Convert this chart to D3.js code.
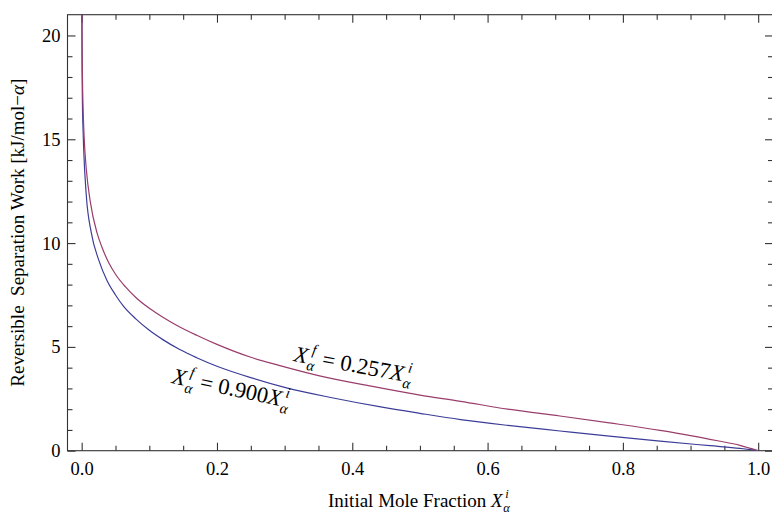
<!DOCTYPE html>
<html>
<head>
<meta charset="utf-8">
<script src="https://cdn.jsdelivr.net/npm/d3@7"></script>
<style>
  body { margin: 0; background: #fff; }
  text { font-family: "Liberation Serif", "Times New Roman", serif; fill: #000; }
</style>
</head>
<body>
<div id="chart"></div>
<script>
// values
var blueX = [0.0003, 0.0005, 0.001, 0.002, 0.003, 0.0068, 0.0142, 0.025, 0.0374, 0.05, 0.062, 0.08, 0.1, 0.12, 0.145, 0.17, 0.2, 0.25, 0.3, 0.37, 0.44, 0.5, 0.56, 0.63, 0.707, 0.78, 0.855, 0.929, 0.973, 1.0];
var blueY = [21.5, 18.9, 17.0, 15.5, 14.5, 12.3, 10.5, 9.2, 8.2, 7.5, 6.95, 6.35, 5.8, 5.35, 4.87, 4.48, 4.07, 3.52, 3.05, 2.55, 2.12, 1.8, 1.5, 1.22, 0.95, 0.7, 0.46, 0.24, 0.11, 0];

var redX = [0.0003, 0.0005, 0.001, 0.002, 0.0038, 0.007, 0.0127, 0.0226, 0.03, 0.04, 0.05, 0.0645, 0.08, 0.1, 0.12, 0.145, 0.17, 0.2, 0.25, 0.293, 0.35, 0.426, 0.5, 0.56, 0.63, 0.707, 0.78, 0.855, 0.9, 0.94, 0.973, 1.0];
var redY = [22.7, 20.1, 18.3, 16.6, 15.0, 13.5, 12.0, 10.5, 9.8, 9.05, 8.5, 7.9, 7.38, 6.86, 6.43, 5.96, 5.56, 5.12, 4.5, 4.1, 3.62, 3.12, 2.68, 2.38, 2.0, 1.67, 1.34, 0.98, 0.73, 0.48, 0.26, 0];

var xMajor = [0, 0.2, 0.4, 0.6, 0.8, 1.0];
var yMajor = [0, 5, 10, 15, 20];

(function() {
  var width = 772, height = 512;
  var pLeft = 67.5, pRight = 773, pTop = 14.7, pBottom = 450.7;

  var svg = d3.select("#chart").append("svg")
      .attr("width", width)
      .attr("height", height);

  var x = d3.scaleLinear().domain([-0.0217, 1.0219]).range([pLeft - 0.5, pRight]);
  var y = d3.scaleLinear().domain([0, 21]).range([pBottom, pTop]);

  var xMinor = d3.range(0, 1.0001, 0.05).filter(function(d) { return Math.abs(d * 5 - Math.round(d * 5)) > 1e-6; });
  var yMinor = d3.range(0, 21, 1).filter(function(d) { return d % 5 !== 0; });

  // frame
  svg.append("rect")
      .attr("x", pLeft).attr("y", pTop)
      .attr("width", pRight - pLeft).attr("height", pBottom - pTop)
      .attr("fill", "none")
      .attr("stroke", "#333")
      .attr("stroke-width", 1.1);

  function styleAxis(g) {
    g.select(".domain").remove();
    g.selectAll(".tick line").attr("stroke", "#333").attr("stroke-width", 1.1);
    g.selectAll("text").attr("font-size", "18.5px").attr("font-family", "Liberation Serif, serif").attr("fill", "#000");
  }

  // bottom
  svg.append("g").attr("transform", "translate(0," + pBottom + ")")
      .call(d3.axisBottom(x).tickValues(xMajor).tickSize(-8).tickPadding(11).tickFormat(d3.format(".1f")))
      .call(styleAxis);
  svg.append("g").attr("transform", "translate(0," + pBottom + ")")
      .call(d3.axisBottom(x).tickValues(xMinor).tickSize(-5).tickFormat(""))
      .call(styleAxis);
  // top
  svg.append("g").attr("transform", "translate(0," + pTop + ")")
      .call(d3.axisTop(x).tickValues(xMajor).tickSize(-8).tickFormat(""))
      .call(styleAxis);
  svg.append("g").attr("transform", "translate(0," + pTop + ")")
      .call(d3.axisTop(x).tickValues(xMinor).tickSize(-5).tickFormat(""))
      .call(styleAxis);
  // left
  svg.append("g").attr("transform", "translate(" + pLeft + ",0)")
      .call(d3.axisLeft(y).tickValues(yMajor).tickSize(-8).tickPadding(7).tickFormat(d3.format("d")))
      .call(styleAxis);
  svg.append("g").attr("transform", "translate(" + pLeft + ",0)")
      .call(d3.axisLeft(y).tickValues(yMinor).tickSize(-5).tickFormat(""))
      .call(styleAxis);
  // right
  svg.append("g").attr("transform", "translate(" + pRight + ",0)")
      .call(d3.axisRight(y).tickValues(yMajor).tickSize(-8).tickFormat(""))
      .call(styleAxis);
  svg.append("g").attr("transform", "translate(" + pRight + ",0)")
      .call(d3.axisRight(y).tickValues(yMinor).tickSize(-5).tickFormat(""))
      .call(styleAxis);

  // curves
  svg.append("clipPath").attr("id", "plotclip")
    .append("rect")
      .attr("x", pLeft).attr("y", pTop)
      .attr("width", pRight - pLeft).attr("height", pBottom - pTop);

  var line = d3.line()
      .x(function(d) { return x(d[0]); })
      .y(function(d) { return y(d[1]); })
      .curve(d3.curveMonotoneX);

  var plot = svg.append("g").attr("clip-path", "url(#plotclip)");

  plot.append("path")
      .datum(d3.zip(blueX, blueY))
      .attr("d", line)
      .attr("fill", "none")
      .attr("stroke", "#3d3d99")
      .attr("stroke-width", 1.2);

  plot.append("path")
      .datum(d3.zip(redX, redY))
      .attr("d", line)
      .attr("fill", "none")
      .attr("stroke", "#993d6b")
      .attr("stroke-width", 1.2);

  // math-ish label: pieces laid out left to right, measured as we go
  function mathLabel(g, parts, size) {
    var cx = 0;
    var small = size * 0.66;
    parts.forEach(function(p) {
      if (p.sub !== undefined) {
        var s = g.append("text").attr("x", cx + 0.5).attr("y", size * 0.28)
            .attr("font-size", small + "px").attr("font-style", "italic").text(p.sub);
        var u = g.append("text").attr("x", cx + size * 0.14).attr("y", -size * 0.44)
            .attr("font-size", small + "px").attr("font-style", "italic").text(p.sup);
        var w1 = s.node().getComputedTextLength() + 0.5;
        var w2 = u.node().getComputedTextLength() + size * 0.14;
        cx += Math.max(w1, w2) + 1;
      } else {
        var t = g.append("text").attr("x", cx).attr("y", 0)
            .attr("font-size", size + "px")
            .attr("font-style", p.it ? "italic" : null)
            .style("white-space", "pre")
            .text(p.t);
        cx += t.node().getComputedTextLength();
      }
    });
    return cx;
  }

  var redLabel = svg.append("g").attr("transform", "translate(293,361) rotate(10.5)");
  mathLabel(redLabel, [
    {t: "X", it: true}, {sub: "α", sup: "f"}, {t: " = 0.257"},
    {t: "X", it: true}, {sub: "α", sup: "i"}
  ], 22.5);

  var blueLabel = svg.append("g").attr("transform", "translate(171,383) rotate(12)");
  mathLabel(blueLabel, [
    {t: "X", it: true}, {sub: "α", sup: "f"}, {t: " = 0.900"},
    {t: "X", it: true}, {sub: "α", sup: "i"}
  ], 22.5);

  // x axis title
  var xTitle = svg.append("g").attr("transform", "translate(328,506.5)");
  mathLabel(xTitle, [
    {t: "Initial Mole Fraction "}, {t: "X", it: true}, {sub: "α", sup: "i"}
  ], 19);

  // y axis title
  var yTitle = svg.append("text")
      .attr("transform", "translate(24," + ((pTop + pBottom) / 2) + ") rotate(-90)")
      .attr("text-anchor", "middle")
      .attr("font-size", "19px")
      .style("white-space", "pre");
  yTitle.append("tspan").text("Reversible  Separation Work [kJ/mol\u2212");
  yTitle.append("tspan").attr("font-style", "italic").text("α");
  yTitle.append("tspan").text("]");
})();
</script>
</body>
</html>
